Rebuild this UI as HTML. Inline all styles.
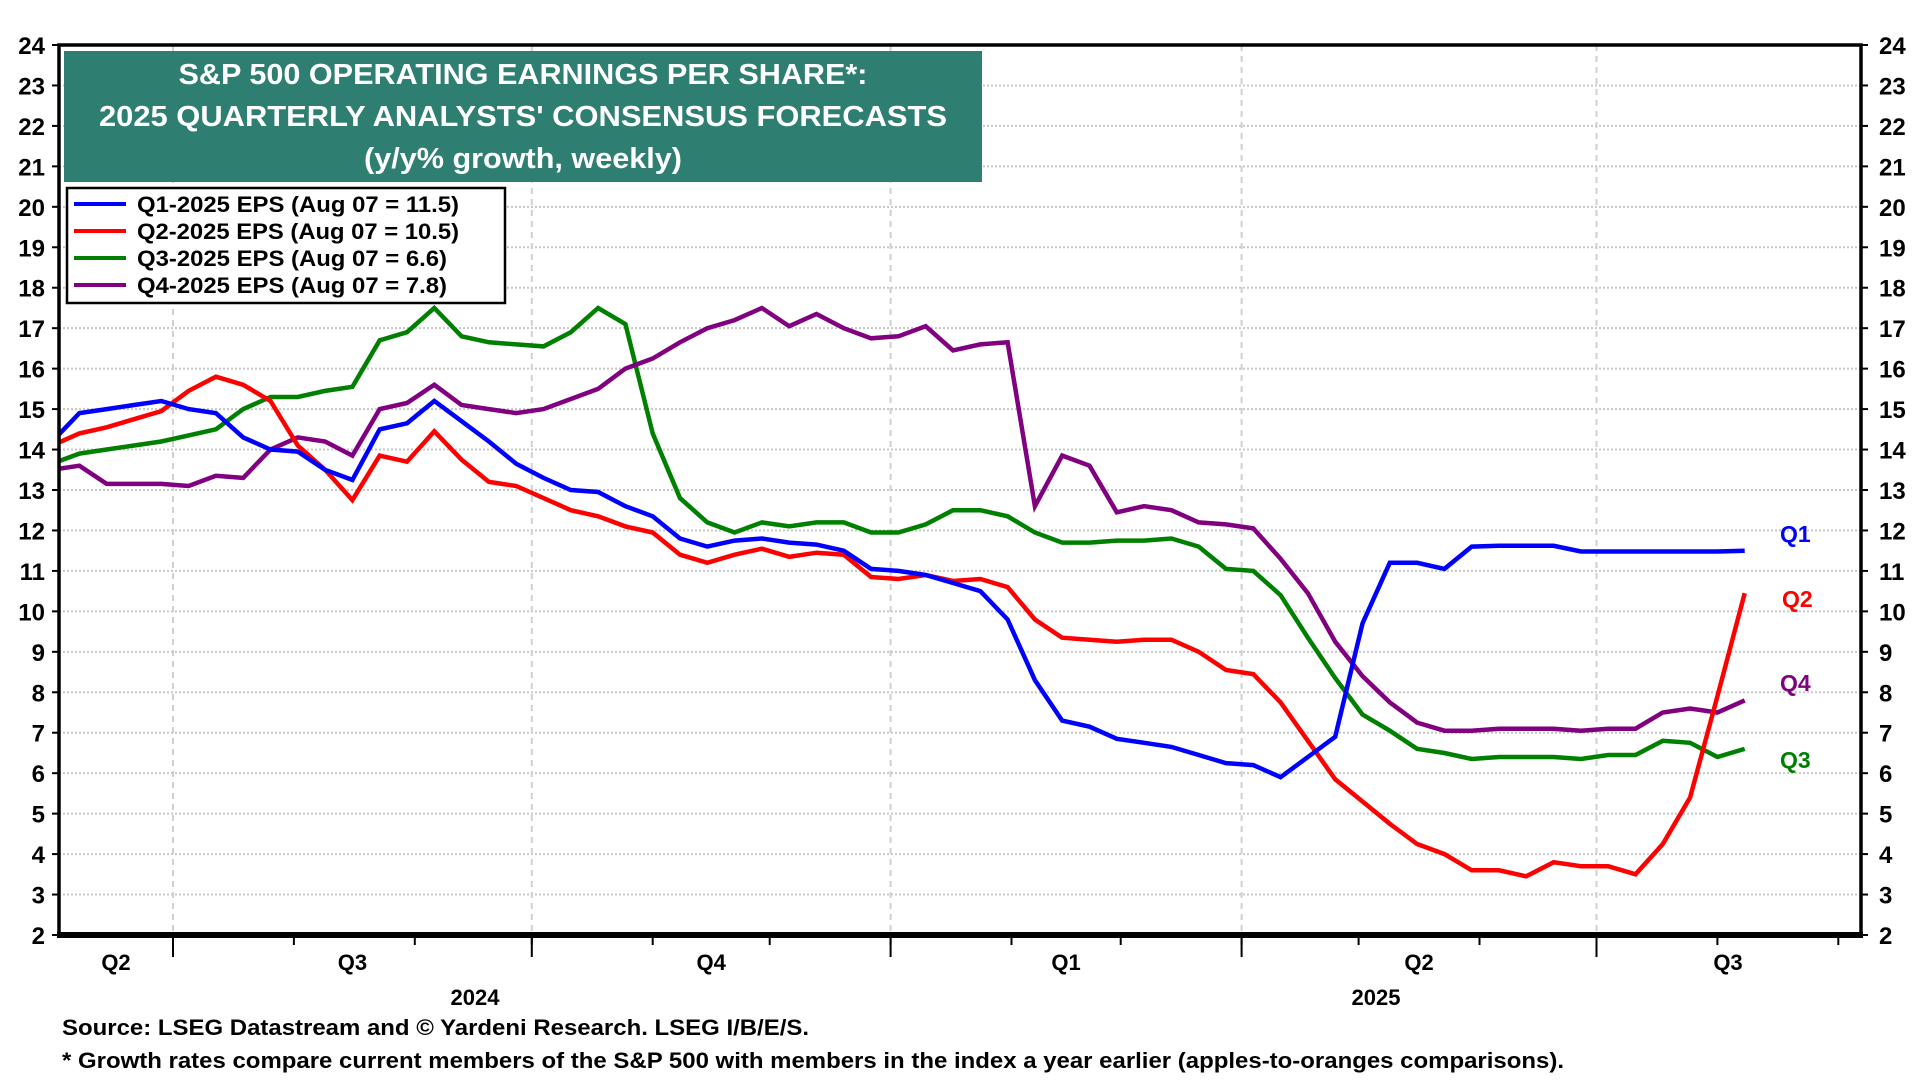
<!DOCTYPE html>
<html><head><meta charset="utf-8"><style>
html,body{margin:0;padding:0;background:#fff;}
svg{display:block;font-family:"Liberation Sans Narrow","Liberation Sans",sans-serif;font-weight:bold;}
</style></head><body>
<svg id="chart" width="1920" height="1080" viewBox="0 0 1920 1080" xmlns="http://www.w3.org/2000/svg">
<g id="grid"></g>
<g id="series"></g>
<g id="axes"></g>
<g>
<rect x="64" y="51" width="918" height="131" fill="#2e7f72"/>
<text x="523" y="84" fill="#fff" font-size="29" text-anchor="middle" textLength="689" lengthAdjust="spacingAndGlyphs">S&amp;P 500 OPERATING EARNINGS PER SHARE*:</text>
<text x="523" y="126" fill="#fff" font-size="29" text-anchor="middle" textLength="848" lengthAdjust="spacingAndGlyphs">2025 QUARTERLY ANALYSTS' CONSENSUS FORECASTS</text>
<text x="523" y="168" fill="#fff" font-size="29" text-anchor="middle" textLength="318" lengthAdjust="spacingAndGlyphs">(y/y% growth, weekly)</text>
</g>
<g>
<rect x="67" y="188" width="438" height="115" fill="#fff" stroke="#000" stroke-width="2.5"/>
<line x1="74" y1="204" x2="126" y2="204" stroke="#0000ff" stroke-width="4"/>
<text x="137" y="212" font-size="22" textLength="322" lengthAdjust="spacingAndGlyphs">Q1-2025 EPS (Aug 07 = 11.5)</text>
<line x1="74" y1="231" x2="126" y2="231" stroke="#ff0000" stroke-width="4"/>
<text x="137" y="239" font-size="22" textLength="322" lengthAdjust="spacingAndGlyphs">Q2-2025 EPS (Aug 07 = 10.5)</text>
<line x1="74" y1="258" x2="126" y2="258" stroke="#008000" stroke-width="4"/>
<text x="137" y="266" font-size="22" textLength="310" lengthAdjust="spacingAndGlyphs">Q3-2025 EPS (Aug 07 = 6.6)</text>
<line x1="74" y1="285" x2="126" y2="285" stroke="#800080" stroke-width="4"/>
<text x="137" y="293" font-size="22" textLength="310" lengthAdjust="spacingAndGlyphs">Q4-2025 EPS (Aug 07 = 7.8)</text>
</g>
<text x="1780" y="542" fill="#0000ff" font-size="23">Q1</text>
<text x="1782" y="607" fill="#ff0000" font-size="23">Q2</text>
<text x="1780" y="691" fill="#800080" font-size="23">Q4</text>
<text x="1780" y="768" fill="#008000" font-size="23">Q3</text>
<text x="475" y="1005" font-size="22" text-anchor="middle">2024</text>
<text x="1376" y="1005" font-size="22" text-anchor="middle">2025</text>
<text x="62" y="1035" font-size="22" textLength="747" lengthAdjust="spacingAndGlyphs">Source: LSEG Datastream and © Yardeni Research. LSEG I/B/E/S.</text>
<text x="62" y="1068" font-size="22" textLength="1502" lengthAdjust="spacingAndGlyphs">* Growth rates compare current members of the S&amp;P 500 with members in the index a year earlier (apples-to-oranges comparisons).</text>
</svg>
<script>
const startDate = "2024-05-31";
const q1Values = [14.2,14.9,15.0,15.1,15.2,15.0,14.9,14.3,14.0,13.95,13.5,13.25,14.5,14.65,15.2,14.7,14.2,13.65,13.3,13.0,12.95,12.6,12.35,11.8,11.6,11.75,11.8,11.7,11.65,11.5,11.05,11.0,10.9,10.7,10.5,9.8,8.3,7.3,7.15,6.85,6.75,6.65,6.45,6.25,6.2,5.9,6.4,6.9,9.7,11.2,11.2,11.05,11.6,11.62,11.62,11.62,11.48,11.48,11.48,11.48,11.48,11.48,11.5];
const q2Values = [14.1,14.4,14.55,14.75,14.95,15.45,15.8,15.6,15.2,14.1,13.5,12.75,13.85,13.7,14.45,13.75,13.2,13.1,12.8,12.5,12.35,12.1,11.95,11.4,11.2,11.4,11.55,11.35,11.45,11.4,10.85,10.8,10.9,10.75,10.8,10.6,9.8,9.35,9.3,9.25,9.3,9.3,9.0,8.55,8.45,7.75,6.8,5.85,5.3,4.75,4.25,4.0,3.6,3.6,3.45,3.8,3.7,3.7,3.5,4.25,5.4,7.9,10.45];
const q3Values = [13.65,13.9,14.0,14.1,14.2,14.35,14.5,15.0,15.3,15.3,15.45,15.55,16.7,16.9,17.5,16.8,16.65,16.6,16.55,16.9,17.5,17.1,14.4,12.8,12.2,11.95,12.2,12.1,12.2,12.2,11.95,11.95,12.15,12.5,12.5,12.35,11.95,11.7,11.7,11.75,11.75,11.8,11.6,11.05,11.0,10.4,9.35,8.35,7.45,7.05,6.6,6.5,6.35,6.4,6.4,6.4,6.35,6.45,6.45,6.8,6.75,6.4,6.6];
const q4Values = [13.5,13.6,13.15,13.15,13.15,13.1,13.35,13.3,14.0,14.3,14.2,13.85,15.0,15.15,15.6,15.1,15.0,14.9,15.0,15.25,15.5,16.0,16.25,16.65,17.0,17.2,17.5,17.05,17.35,17.0,16.75,16.8,17.05,16.45,16.6,16.65,12.6,13.85,13.6,12.45,12.6,12.5,12.2,12.15,12.05,11.3,10.45,9.25,8.4,7.75,7.25,7.05,7.05,7.1,7.1,7.1,7.05,7.1,7.1,7.5,7.6,7.5,7.8];
const yTicks = [2,3,4,5,6,7,8,9,10,11,12,13,14,15,16,17,18,19,20,21,22,23,24];
const quarterLabels = ["Q2","Q3","Q4","Q1","Q2","Q3"];
const quarterStarts = ["2024-04-01","2024-07-01","2024-10-01","2025-01-01","2025-04-01","2025-07-01","2025-10-01"];
const monthStarts = ["2024-06-01","2024-07-01","2024-08-01","2024-09-01","2024-10-01","2024-11-01","2024-12-01","2025-01-01","2025-02-01","2025-03-01","2025-04-01","2025-05-01","2025-06-01","2025-07-01","2025-08-01","2025-09-01"];

const NS="http://www.w3.org/2000/svg";
const L=59,R=1861,T=45,B=935;
const DAY=86400000, ref=Date.parse("2024-07-01");
function xScale(dateStr){return 173+(Date.parse(dateStr)-ref)/DAY*3.9;}
function xOfIndex(i){return 173+((Date.parse(startDate)+i*7*DAY)-ref)/DAY*3.9;}
function yScale(v){return B-(v-2)*(B-T)/22;}
function mk(tag,attrs,parent){const e=document.createElementNS(NS,tag);for(const k in attrs)e.setAttribute(k,attrs[k]);parent.appendChild(e);return e;}
const grid=document.getElementById('grid'),axes=document.getElementById('axes'),series=document.getElementById('series');

yTicks.forEach(v=>{
  const y=yScale(v);
  if(v>2&&v<24){const g=mk('line',{x1:L,x2:R,y1:y,y2:y,stroke:'#c8c8c8','stroke-width':2,'stroke-dasharray':'2,2'},grid);
  
  }
  mk('line',{x1:L-7,x2:L,y1:y,y2:y,stroke:'#000','stroke-width':2},axes);
  mk('line',{x1:R,x2:R+7,y1:y,y2:y,stroke:'#000','stroke-width':2},axes);
  const t1=mk('text',{x:L-14,y:y+9,'font-size':24,'text-anchor':'end'},axes);t1.textContent=v;
  
  
  const t2=mk('text',{x:R+18,y:y+9,'font-size':24},axes);t2.textContent=v;
  
  
});
monthStarts.forEach(d=>{const x=xScale(d);if(x<L||x>R)return;
  mk('line',{x1:x,x2:x,y1:B,y2:B+10,stroke:'#000','stroke-width':2},axes);});
quarterStarts.forEach(d=>{const x=xScale(d);if(x<L||x>R)return;
  const g=mk('line',{x1:x,x2:x,y1:T,y2:B,stroke:'#d0d0d0','stroke-width':2,'stroke-dasharray':'6,5'},grid);
  
  
  mk('line',{x1:x,x2:x,y1:B,y2:B+22,stroke:'#000','stroke-width':2},axes);});
quarterLabels.forEach((q,i)=>{
  let a=Math.max(xScale(quarterStarts[i]),L),b=Math.min(xScale(quarterStarts[i+1]),R);
  let cx=(a+b)/2; if(i===0)cx=116; if(i===5)cx=1728;
  const t=mk('text',{x:cx,y:970,'font-size':22,'text-anchor':'middle'},axes);t.textContent=q;
  
  
});
mk('rect',{x:L,y:T,width:R-L,height:B-T,fill:'none',stroke:'#000','stroke-width':3.5},axes);
mk('line',{x1:L-2,x2:R+2,y1:B,y2:B,stroke:'#000','stroke-width':6},axes);

mk('clipPath',{id:'clip'},series);
mk('rect',{x:L,y:T,width:R-L,height:B-T},document.getElementById('clip'));
function drawLine(vals,color,name){
  const pts=vals.map((v,i)=>xOfIndex(i).toFixed(1)+','+yScale(v).toFixed(1)).join(' ');
  const p=mk('polyline',{points:pts,fill:'none',stroke:color,'stroke-width':4.5,'stroke-linejoin':'miter','clip-path':'url(#clip)'},series);
  
  
}
drawLine(q3Values,'#008000','series-q3');
drawLine(q4Values,'#800080','series-q4');
drawLine(q2Values,'#ff0000','series-q2');
drawLine(q1Values,'#0000ff','series-q1');
</script>
</body></html>
